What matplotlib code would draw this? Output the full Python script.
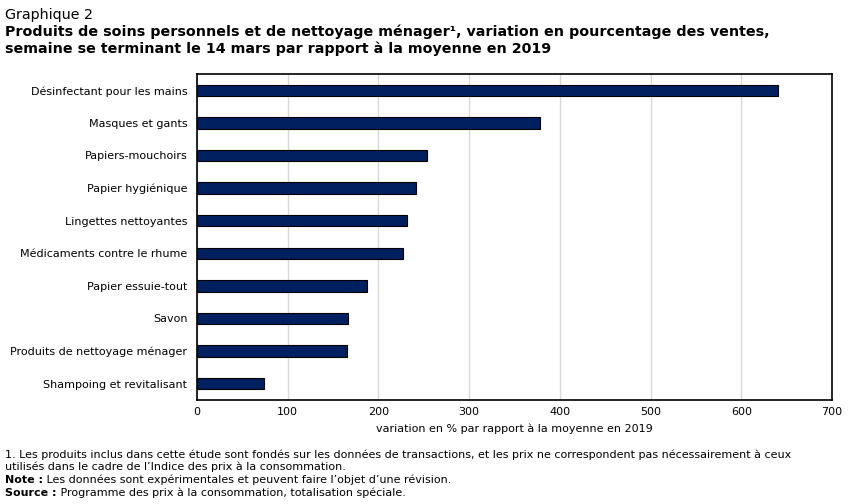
import matplotlib
matplotlib.use("Agg")
import matplotlib.pyplot as plt

categories = [
    "Désinfectant pour les mains",
    "Masques et gants",
    "Papiers-mouchoirs",
    "Papier hygiénique",
    "Lingettes nettoyantes",
    "Médicaments contre le rhume",
    "Papier essuie-tout",
    "Savon",
    "Produits de nettoyage ménager",
    "Shampoing et revitalisant",
]
values = [640, 378, 254, 241, 232, 227, 187, 166, 165, 74]
xticks = [0, 100, 200, 300, 400, 500, 600, 700]

plt.rcParams["font.family"] = ["DejaVu Sans"]

fig = plt.figure(figsize=(8.52, 5.04), dpi=100)
ax = fig.add_axes([197 / 852, 1 - 400 / 504, 635 / 852, 326 / 504])

ypos = list(range(len(categories)))
ax.barh(ypos, values, height=0.35, color="#002060", edgecolor="black", linewidth=0.8, zorder=3)
ax.set_ylim(len(categories) - 0.5, -0.5)
ax.set_xlim(0, 700)
ax.set_xticks(xticks)
ax.set_xticklabels([str(t) for t in xticks], fontsize=8)
ax.set_yticks(ypos)
ax.set_yticklabels(categories, fontsize=8)
ax.tick_params(axis="x", length=0, pad=5)
ax.tick_params(axis="y", length=0, pad=7)
ax.grid(axis="x", color="#d9d9d9", linewidth=1, zorder=0)
for s in ax.spines.values():
    s.set_color("black")
    s.set_linewidth(1.2)
ax.set_xlabel("variation en % par rapport à la moyenne en 2019", fontsize=8, labelpad=5)

fig.text(0.006, 1 - 15 / 504, "Graphique 2", fontsize=10.3, va="center")
fig.text(0.006, 1 - 32 / 504,
         "Produits de soins personnels et de nettoyage ménager¹, variation en pourcentage des ventes,",
         fontsize=10.3, fontweight="semibold", va="center")
fig.text(0.006, 1 - 49 / 504,
         "semaine se terminant le 14 mars par rapport à la moyenne en 2019",
         fontsize=10.3, fontweight="semibold", va="center")

foot = [
    ("", "1. Les produits inclus dans cette étude sont fondés sur les données de transactions, et les prix ne correspondent pas nécessairement à ceux"),
    ("", "utilisés dans le cadre de l’Indice des prix à la consommation."),
    ("Note :", " Les données sont expérimentales et peuvent faire l’objet d’une révision."),
    ("Source :", " Programme des prix à la consommation, totalisation spéciale."),
]
ys = [455, 467, 480, 493]
for (b, t), y in zip(foot, ys):
    x = 0.006
    if b:
        tb = fig.text(x, 1 - y / 504, b, fontsize=8, fontweight="bold", va="center")
        fig.canvas.draw()
        bb = tb.get_window_extent()
        x = bb.x1 / fig.bbox.width
    fig.text(x, 1 - y / 504, t, fontsize=8, va="center")

fig.savefig("out.png", dpi=100)
